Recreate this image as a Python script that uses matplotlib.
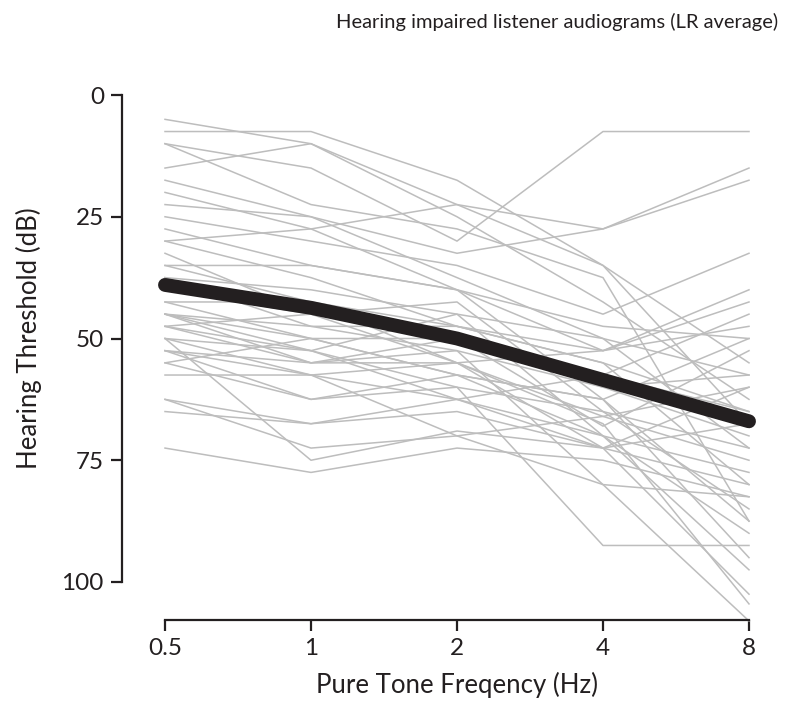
import matplotlib
matplotlib.use("Agg")
import matplotlib.pyplot as plt

plt.rcParams['font.family'] = ['Lato', 'DejaVu Sans']

freqs = [0.5, 1, 2, 4, 8]
freq_labels = ["0.5", "1", "2", "4", "8"]
y_ticks = [0, 25, 50, 75, 100]

# individual listener audiograms (dB HL at 0.5, 1, 2, 4, 8 kHz)
listener_01 = [5, 10, 25, 42.5, 62.5]
listener_02 = [7.5, 7.5, 17.5, 35, 67.5]
listener_03 = [10, 15, 30, 7.5, 7.5]
listener_04 = [10, 22.5, 27.5, 37.5, 87.5]
listener_05 = [15, 10, 22.5, 27.5, 15]
listener_06 = [17.5, 25, 32.5, 27.5, 17.5]
listener_07 = [20, 27.5, 22.5, 35, 55]
listener_08 = [22.5, 25, 37.5, 50, 72.5]
listener_09 = [25, 30, 35, 45, 32.5]
listener_10 = [27.5, 35, 40, 52.5, 47.5]
listener_11 = [30, 37.5, 47.5, 55, 80]
listener_12 = [32.5, 45, 42.5, 65, 85]
listener_13 = [35, 35, 40, 62.5, 95]
listener_14 = [35, 42.5, 55, 67.5, 104.5]
listener_15 = [37.5, 47.5, 52.5, 60, 57.5]
listener_16 = [40, 45, 55, 72.5, 102.5]
listener_17 = [42.5, 50, 57.5, 62.5, 50]
listener_18 = [45, 47.5, 47.5, 52.5, 42.5]
listener_19 = [45, 52.5, 62.5, 70, 77.5]
listener_20 = [45, 55, 52.5, 80, 82.5]
listener_21 = [45, 50, 50, 57.5, 65]
listener_22 = [47.5, 52.5, 60, 92.5, 92.5]
listener_23 = [47.5, 55, 55, 66, 75]
listener_24 = [47.5, 45, 50, 60, 70]
listener_25 = [50, 57.5, 55, 52.5, 40]
listener_26 = [50, 52.5, 45, 70, 97.5]
listener_27 = [52.5, 57.5, 62.5, 72.5, 60]
listener_28 = [52.5, 55, 50, 68, 52.5]
listener_29 = [52.5, 62.5, 57.5, 62.5, 87.5]
listener_30 = [55, 50, 57.5, 70, 90]
listener_31 = [55, 62.5, 60, 65, 72.5]
listener_32 = [57.5, 57.5, 70, 80, 108]
listener_33 = [62.5, 67.5, 62.5, 57.5, 45]
listener_34 = [62.5, 72.5, 70, 66, 60]
listener_35 = [65, 67.5, 65, 72.5, 80]
listener_36 = [72.5, 77.5, 72.5, 75, 82.5]
listener_37 = [37.5, 40, 45, 50, 57.5]
listener_38 = [42.5, 42.5, 47.5, 55, 65]
listener_39 = [50, 75, 69, 72.5, 67.5]
listener_40 = [30, 27.5, 40, 47.5, 50]

listeners = [listener_01, listener_02, listener_03, listener_04, listener_05,
             listener_06, listener_07, listener_08, listener_09, listener_10,
             listener_11, listener_12, listener_13, listener_14, listener_15,
             listener_16, listener_17, listener_18, listener_19, listener_20,
             listener_21, listener_22, listener_23, listener_24, listener_25,
             listener_26, listener_27, listener_28, listener_29, listener_30,
             listener_31, listener_32, listener_33, listener_34, listener_35,
             listener_36, listener_37, listener_38, listener_39, listener_40]

mean_threshold = [39, 43.7, 50, 58.5, 67]

fig = plt.figure(figsize=(8, 7.05), dpi=100)
ax = fig.add_axes([165/800, 1-582/705, (749-165)/800, (582-95)/705])

for vals in listeners:
    ax.plot(freqs, vals, color='#bdbdbd', lw=1.1, clip_on=False, zorder=2)

ax.plot(freqs, mean_threshold, color='#231f20', lw=10, solid_capstyle='round',
        clip_on=False, zorder=3)

ax.set_xscale('log', base=2)
ax.set_xlim(0.5, 8)
ax.set_ylim(100, 0)
ax.set_xticks(freqs)
ax.set_xticklabels(freq_labels)
ax.minorticks_off()
ax.set_yticks(y_ticks)

for s in ['top', 'right']:
    ax.spines[s].set_visible(False)
ax.spines['left'].set_position(('outward', 31))
ax.spines['bottom'].set_position(('outward', 27.5))
ax.spines['left'].set_bounds(0, 100)
ax.spines['bottom'].set_bounds(0.5, 8)
for s in ['left', 'bottom']:
    ax.spines[s].set_linewidth(1.6)
    ax.spines[s].set_color('#231f20')
ax.tick_params(axis='both', length=8, width=1.6, color='#231f20',
               labelsize=17.5, labelcolor='#231f20')
ax.tick_params(axis='y', pad=5)
ax.tick_params(axis='x', pad=5)

ax.set_xlabel('Pure Tone Freqency (Hz)', fontsize=18.5, color='#231f20', labelpad=9)
ax.set_ylabel('Hearing Threshold (dB)', fontsize=18.5, color='#231f20', labelpad=14)

fig.text(778/800, 1-22/705, 'Hearing impaired listener audiograms (LR average)',
         ha='right', va='center', fontsize=14.5, color='#231f20')

fig.savefig('out.png', dpi=100)
